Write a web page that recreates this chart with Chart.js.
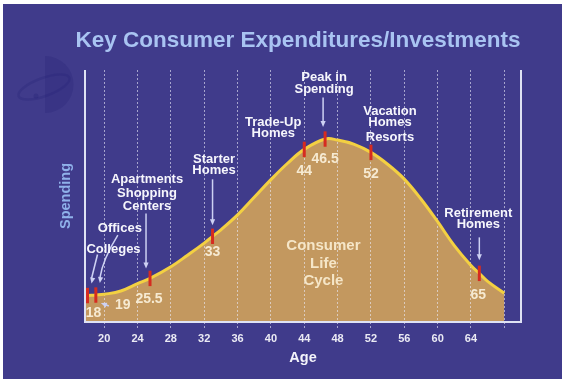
<!DOCTYPE html>
<html>
<head>
<meta charset="utf-8">
<script src="https://cdn.jsdelivr.net/npm/chart.js@4.4.1/dist/chart.umd.min.js"></script>
<style>
  html, body { margin: 0; padding: 0; background: #ffffff; }
  #wrap { position: relative; width: 565px; height: 384px; }
  #panel { position: absolute; left: 3px; top: 4px; width: 559px; height: 375px; background: #403b8b; }
  #chart { position: absolute; left: 0; top: 0; }
</style>
</head>
<body>
<div id="wrap"><div id="panel"></div><canvas id="chart" width="565" height="384"></canvas></div>
<script>
// spending curve (age -> relative spending, 0-100)
var ages     = [17.7, 18, 19, 20, 22, 24, 25.5, 28, 30, 32, 33, 34, 36, 38, 40, 42, 44, 46.5, 48, 50, 52, 54, 56, 58, 60, 62, 64, 65, 66, 68];
var spending = [10.4, 10.5, 10.7, 11.0, 12.3, 15.2, 17.3, 21.9, 26.5, 31.3, 34.0, 36.6, 42.5, 49.5, 56.5, 63.0, 68.5, 72.6, 72.2, 70.5, 67.3, 62.6, 56.7, 48.8, 39.8, 30.3, 22.4, 19.3, 16.1, 11.4];

// marked life events on the curve
var eventAges     = [18, 19, 25.5, 33, 44, 46.5, 52, 65];
var eventSpending = [10.5, 10.7, 17.3, 34.0, 68.5, 72.6, 67.3, 19.3];
var eventNames = [
  ['Colleges'],
  ['Offices'],
  ['Apartments', 'Shopping', 'Centers'],
  ['Starter', 'Homes'],
  ['Trade-Up', 'Homes'],
  ['Peak in', 'Spending'],
  ['Vacation', 'Homes', 'Resorts'],
  ['Retirement', 'Homes']
];

var ageTicks = [20, 24, 28, 32, 36, 40, 44, 48, 52, 56, 60, 64, 68];
var lastLabelledAge = 64;
var centreText = ['Consumer', 'Life', 'Cycle'];

var FONT = '"Liberation Sans", Arial, Helvetica, sans-serif';

// where each label sits, in pixels from its marker
var labelPlace = [
  { num: [6, 18],  rows: [-46],            dx: 26,  arrow: [10, -41, 4, -12] },
  { num: [27, 10], rows: [-67],            dx: 24,  arrow: [22, -60, 4, -12], bend: true, lead: [13, 11, 5, 8] },
  { num: [-1, 21], rows: [-98.5, -85, -71.5], dx: -3, arrow: [-4, -65, -4, -10] },
  { num: [0, 16],  rows: [-77, -66],       dx: 1.5, arrow: [0, -57, 0, -11] },
  { num: [0, 22],  rows: [-27, -16],       dx: -31 },
  { num: [0, 20],  rows: [-61.5, -49.5],   dx: -1,  arrow: [-2, -41.5, -2, -12] },
  { num: [0, 22],  rows: [-41, -30, -15],  dx: 19 },
  { num: [-1, 22], rows: [-60, -49],       dx: -1,  arrow: [0, -36, 0, -13] }
];

function arrowHead(ctx, fromX, fromY, x, y) {
  var a = Math.atan2(y - fromY, x - fromX);
  ctx.beginPath();
  ctx.moveTo(x, y);
  ctx.lineTo(x - 6 * Math.cos(a) + 2.6 * Math.sin(a), y - 6 * Math.sin(a) - 2.6 * Math.cos(a));
  ctx.lineTo(x - 6 * Math.cos(a) - 2.6 * Math.sin(a), y - 6 * Math.sin(a) + 2.6 * Math.cos(a));
  ctx.closePath();
  ctx.fill();
}

function arrow(ctx, x1, y1, x2, y2, bend) {
  ctx.beginPath();
  ctx.moveTo(x1, y1);
  var cx = x1, cy = y1;
  if (bend) {
    cx = (x1 + x2) / 2 - 6; cy = (y1 + y2) / 2;
    ctx.quadraticCurveTo(cx, cy, x2, y2 - 5);
  } else {
    ctx.lineTo(x2, y2 - 5);
  }
  ctx.stroke();
  arrowHead(ctx, cx, cy, x2, y2);
}

var decor = {
  id: 'decor',
  beforeDraw: function (chart) {
    var ctx = chart.ctx;
    ctx.save();
    // faint emblem on the left
    ctx.fillStyle = 'rgba(40, 36, 120, 0.28)';
    ctx.beginPath();
    ctx.arc(45, 84.5, 28.5, -Math.PI / 2, Math.PI / 2);
    ctx.closePath();
    ctx.fill();
    ctx.strokeStyle = 'rgba(40, 36, 120, 0.3)';
    ctx.lineWidth = 2.5;
    ctx.beginPath();
    ctx.ellipse(44, 87, 27, 9, -0.35, 0, Math.PI * 2);
    ctx.stroke();
    ctx.beginPath();
    ctx.arc(36, 96, 2.5, 0, Math.PI * 2);
    ctx.fillStyle = 'rgba(40, 36, 120, 0.35)';
    ctx.fill();
    // heading
    ctx.fillStyle = '#a9c4f2';
    ctx.font = 'bold 22.5px ' + FONT;
    ctx.textAlign = 'center';
    ctx.textBaseline = 'middle';
    ctx.fillText('Key Consumer Expenditures/Investments', 298, 41);
    ctx.restore();
  },
  afterDatasetsDraw: function (chart) {
    var ctx = chart.ctx, a = chart.chartArea;
    var xs = chart.scales.x, ys = chart.scales.y;
    ctx.save();
    // frame: left, bottom, right
    ctx.strokeStyle = '#dfe2f4';
    ctx.lineWidth = 2;
    ctx.beginPath();
    ctx.moveTo(a.left, a.top);
    ctx.lineTo(a.left, a.bottom);
    ctx.lineTo(a.right, a.bottom);
    ctx.lineTo(a.right, a.top);
    ctx.stroke();

    ctx.textAlign = 'center';
    ctx.textBaseline = 'middle';
    ctx.strokeStyle = '#cdd1f3';
    ctx.fillStyle = '#cdd1f3';
    ctx.lineWidth = 1.5;
    eventAges.forEach(function (age, i) {
      var px = xs.getPixelForValue(age), py = ys.getPixelForValue(eventSpending[i]);
      var p = labelPlace[i];
      if (p.arrow) arrow(ctx, px + p.arrow[0], py + p.arrow[1], px + p.arrow[2], py + p.arrow[3], p.bend);
      if (p.lead) {
        ctx.beginPath();
        ctx.moveTo(px + p.lead[0], py + p.lead[1]);
        ctx.lineTo(px + p.lead[2] + 3, py + p.lead[3] + 1);
        ctx.stroke();
        arrowHead(ctx, px + p.lead[0], py + p.lead[1], px + p.lead[2], py + p.lead[3]);
      }
    });
    eventAges.forEach(function (age, i) {
      var px = xs.getPixelForValue(age), py = ys.getPixelForValue(eventSpending[i]);
      var p = labelPlace[i];
      ctx.font = 'bold 14px ' + FONT;
      ctx.fillStyle = '#f6ead2';
      ctx.fillText(String(age), px + p.num[0], py + p.num[1]);
      ctx.font = 'bold 13px ' + FONT;
      ctx.fillStyle = '#f6f6fc';
      eventNames[i].forEach(function (line, k) {
        ctx.fillText(line, px + p.dx, py + p.rows[k]);
      });
    });
    // caption inside the filled area
    ctx.font = 'bold 15px ' + FONT;
    ctx.fillStyle = '#f5e6c8';
    var cx = xs.getPixelForValue(46.3), cy = ys.getPixelForValue(23.2);
    centreText.forEach(function (t, k) {
      ctx.fillText(t, cx, cy + (k - 1) * 17.5);
    });
    ctx.restore();
  }
};

var chart = new Chart(document.getElementById('chart'), {
  type: 'line',
  data: {
    datasets: [
      {
        label: 'Events',
        data: eventAges.map(function (a, i) { return { x: a, y: eventSpending[i] }; }),
        showLine: false,
        pointStyle: 'line',
        rotation: 90,
        pointRadius: 7.7,
        pointBorderWidth: 3,
        pointBorderColor: '#d62b1f',
        borderColor: '#d62b1f',
        order: 0
      },
      {
        label: 'Spending',
        data: ages.map(function (a, i) { return { x: a, y: spending[i] }; }),
        borderColor: '#f3d042',
        borderWidth: 3,
        backgroundColor: '#c3985f',
        fill: 'origin',
        pointRadius: 0,
        tension: 0.4,
        order: 1
      }
    ]
  },
  options: {
    responsive: false,
    devicePixelRatio: 1,
    animation: false,
    events: [],
    layout: { padding: { left: 57.6, right: 44, top: 70, bottom: 17.4 } },
    plugins: {
      legend: { display: false },
      tooltip: { enabled: false },
      filler: { drawTime: 'beforeDraw' }
    },
    scales: {
      x: {
        type: 'linear',
        min: 17.7,
        max: 70,
        afterBuildTicks: function (scale) {
          scale.ticks = ageTicks.map(function (v) { return { value: v }; });
        },
        ticks: {
          color: '#ebebf4',
          font: { family: FONT, weight: 'bold', size: 11 },
          padding: 2,
          maxRotation: 0,
          autoSkip: false,
          callback: function (v) { return v > lastLabelledAge ? '' : v; }
        },
        grid: {
          color: 'rgba(235, 235, 250, 0.6)',
          lineWidth: 1,
          tickLength: 8,
          tickColor: 'rgba(235, 235, 250, 0.6)',
          tickBorderDash: [2, 2]
        },
        border: { display: false, dash: [2, 2] },
        title: {
          display: true,
          text: 'Age',
          color: '#f3f3fa',
          font: { family: FONT, weight: 'bold', size: 14.5 },
          padding: { top: 2, bottom: 0 }
        }
      },
      y: {
        min: 0,
        max: 100,
        ticks: { display: false },
        grid: { display: false, drawTicks: false },
        border: { display: false },
        title: {
          display: true,
          text: 'Spending',
          color: '#8fb1ea',
          font: { family: FONT, weight: 'bold', size: 14.5 },
          padding: { top: 0, bottom: 10 }
        }
      }
    }
  },
  plugins: [decor]
});
</script>
</body>
</html>
